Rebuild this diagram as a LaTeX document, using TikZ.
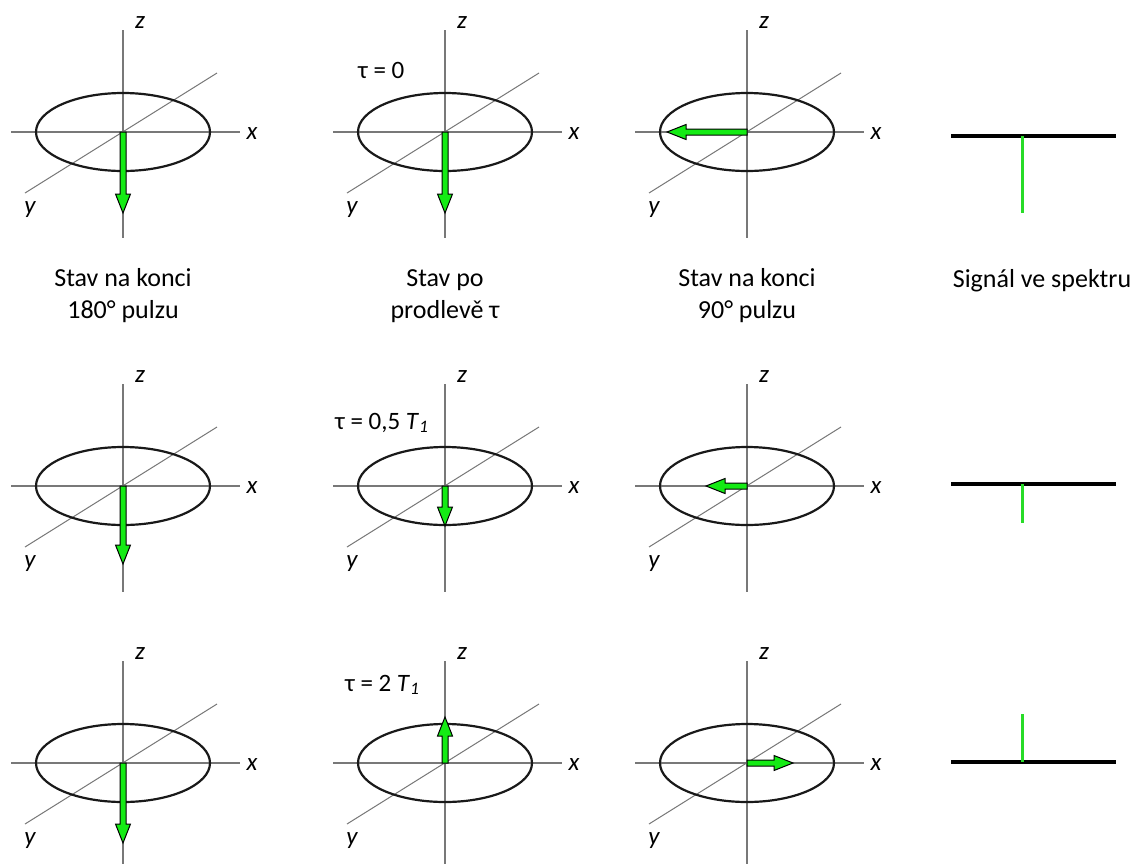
\documentclass[tikz,border=0pt]{standalone}
\usepackage{fontspec}
\setmainfont{Carlito}
\definecolor{magG}{RGB}{20,235,20}
\definecolor{sigG}{RGB}{40,220,40}
\definecolor{axG}{RGB}{120,120,120}
\newcommand\magarrow[4]{%
  \begin{scope}[shift={(#1,#2)},rotate=#3]
    \draw[magarr] (0,-3) -- ({#4-19},-3) -- ({#4-19},-7.5) -- (#4,0) -- ({#4-19},7.5) -- ({#4-19},3) -- (0,3) -- cycle;
  \end{scope}}
\newcommand\axset[3]{%
  \begin{scope}[shift={(#1,#2)}]
    \draw[axline] (0,-102) -- (0,106);
    \draw[axline] (-112,0) -- (117,0);
    \draw[axline,line width=1pt] (-98,61) -- (94,-59);
    \draw[ellline] (0,0) ellipse [x radius=87, y radius=39];
    \node[axlab] (z#3) at (17,-109) {z};
    \node[axlab] (x#3) at (129,2) {x};
    \node[axlab] (y#3) at (-93,78) {y};
  \end{scope}}
\tikzset{
  axline/.style={draw=axG,line width=1.3pt},
  ellline/.style={draw=black!90,line width=2.2pt},
  magarr/.style={fill=magG,draw=black,line width=1pt,line join=miter},
  axlab/.style={font=\fontsize{25}{30}\selectfont\itshape,inner sep=0pt},
  captext/.style={font=\fontsize{26}{32}\selectfont,align=center,inner sep=0pt},
  taulab/.style={font=\fontsize{25}{30}\selectfont,anchor=west,inner sep=0pt},
  specline/.style={draw=black,line width=3.5pt},
  sigline/.style={draw=sigG,line width=3pt}
}
\begin{document}
\begin{tikzpicture}[x=1pt,y=-1pt]
\useasboundingbox (0,0) rectangle (1136,863);
% row 1
\axset{123}{132}{a1}
\axset{445}{132}{a2}
\axset{747}{132}{a3}
\magarrow{123}{132}{-90}{81}
\magarrow{445}{132}{-90}{81}
\magarrow{747}{132}{180}{80}
\node[taulab] (t1) at (358,70) {τ = 0};
\coordinate (s1l) at (951,136); \coordinate (s1r) at (1116,136);
\coordinate (s1a) at (1022,136); \coordinate (s1b) at (1022,213);
\draw[specline] (s1l) -- (s1r);
\draw[sigline] (s1a) -- (s1b);
% captions
\node[captext] (k1) at (123,296) {Stav na konci\\180° pulzu};
\node[captext] (k2) at (445,296) {Stav po\\prodlevě τ};
\node[captext] (k3) at (747,296) {Stav na konci\\90° pulzu};
\node[captext] (k4) at (1042,281) {Signál ve spektru};
% row 2
\axset{123}{486}{b1}
\axset{445}{486}{b2}
\axset{747}{486}{b3}
\magarrow{123}{486}{-90}{78}
\magarrow{445}{486}{-90}{40}
\magarrow{747}{486}{180}{41}
\node[taulab] (t2) at (335,423) {τ = 0,5 \textit{T}\textsubscript{\textit{1}}};
\coordinate (s2l) at (951,484); \coordinate (s2r) at (1116,484);
\coordinate (s2a) at (1022,484); \coordinate (s2b) at (1022,523);
\draw[specline] (s2l) -- (s2r);
\draw[sigline] (s2a) -- (s2b);
% row 3
\axset{123}{763}{c1}
\axset{445}{763}{c2}
\axset{747}{763}{c3}
\magarrow{123}{763}{-90}{80}
\magarrow{445}{763}{90}{46}
\magarrow{747}{763}{0}{46}
\node[taulab] (t3) at (345,685) {τ = 2 \textit{T}\textsubscript{\textit{1}}};
\coordinate (s3l) at (951,762); \coordinate (s3r) at (1116,762);
\coordinate (s3a) at (1022,762); \coordinate (s3b) at (1022,714);
\draw[specline] (s3l) -- (s3r);
\draw[sigline] (s3a) -- (s3b);
\end{tikzpicture}
\end{document}
